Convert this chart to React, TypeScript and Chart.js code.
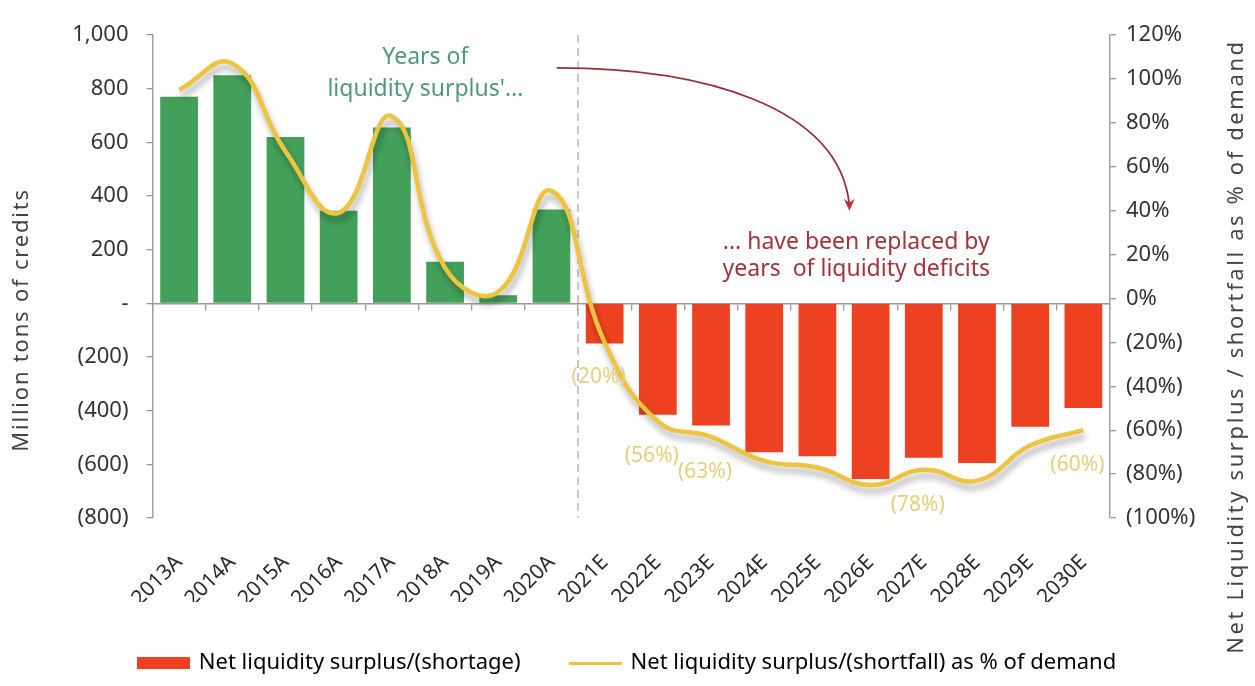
import { useEffect, useRef } from 'react';
import { Chart, registerables } from 'chart.js';

Chart.register(...registerables);

const categories = ['2013A', '2014A', '2015A', '2016A', '2017A', '2018A', '2019A', '2020A', '2021E', '2022E', '2023E', '2024E', '2025E', '2026E', '2027E', '2028E', '2029E', '2030E'];
const liquidityMt = [770, 850, 620, 345, 655, 155, 30, 350, -150, -415, -455, -555, -570, -655, -575, -595, -460, -390];
const liquidityPct = [95, 107, 67, 39, 83, 14, 3, 49, -20, -56, -63, -74, -77, -85, -78, -83, -67, -60];
const pctLabels: (string | null)[] = [null, null, null, null, null, null, null, null, '(20%)', '(56%)', '(63%)', null, null, null, '(78%)', null, null, '(60%)'];
const leftAxis = { min: -800, max: 1000, step: 200 };
const rightAxis = { min: -100, max: 120, step: 20 };
const seriesNames = ['Net liquidity surplus/(shortage)', 'Net liquidity surplus/(shortfall) as % of demand'];
const leftTitle = 'Million tons of credits';
const rightTitle = 'Net Liquidity surplus / shortfall as % of demand';
const surplusNote = ['Years of', "liquidity surplus'..."];
const deficitNote = ['... have been replaced by', 'years  of liquidity deficits'];

const GREEN = '#43A05A';
const RED = '#EE4122';
const GOLD = '#EDC33F';
const FONT = "'Noto Sans', sans-serif";

function fmtLeft(v: number) {
  if (v === 0) return '-';
  const s = Math.abs(v).toLocaleString('en-US');
  return v < 0 ? `(${s})` : s;
}
function fmtRight(v: number) {
  if (v === 0) return '0%';
  return v < 0 ? `(${Math.abs(v)}%)` : `${v}%`;
}

function makeSwatch(w: number, h: number, color: string) {
  const c = document.createElement('canvas');
  c.width = w;
  c.height = h;
  const g = c.getContext('2d')!;
  g.fillStyle = color;
  g.fillRect(0, 0, w, h);
  return c;
}

const overlay = {
  id: 'overlay',
  beforeDatasetsDraw(chart: any) {
    const { ctx, chartArea, scales } = chart;
    const x = scales.x;
    const xd = (x.getPixelForValue(7) + x.getPixelForValue(8)) / 2;
    ctx.save();
    ctx.setLineDash([8, 5]);
    ctx.strokeStyle = '#a9a9a9';
    ctx.lineWidth = 1.3;
    ctx.beginPath();
    ctx.moveTo(xd, chartArea.top);
    ctx.lineTo(xd, chartArea.bottom);
    ctx.stroke();
    ctx.restore();
  },
  beforeDatasetDraw(chart: any, args: any) {
    if (args.index === 1) {
      const ctx = chart.ctx;
      ctx.save();
      ctx.shadowColor = 'rgba(0,0,0,0.32)';
      ctx.shadowBlur = 6;
      ctx.shadowOffsetX = 2;
      ctx.shadowOffsetY = 6;
    }
  },
  afterDatasetDraw(chart: any, args: any) {
    if (args.index === 1) chart.ctx.restore();
  },
  afterDatasetsDraw(chart: any) {
    const { ctx, scales } = chart;
    const x = scales.x;
    const y1 = scales.y1;
    // data labels of the line
    ctx.save();
    ctx.font = `21px ${FONT}`;
    ctx.fillStyle = '#E4D07C';
    ctx.textAlign = 'center';
    ctx.textBaseline = 'middle';
    pctLabels.forEach((lab, i) => {
      if (!lab) return;
      const px = x.getPixelForValue(i) - 6;
      const py = y1.getPixelForValue(liquidityPct[i]) + 35;
      ctx.fillText(lab, px, py);
    });
    ctx.restore();

    // notes
    ctx.save();
    ctx.textAlign = 'center';
    ctx.textBaseline = 'middle';
    ctx.font = `23px ${FONT}`;
    ctx.fillStyle = '#4F9A78';
    const sx = x.getPixelForValue(4.63);
    ctx.fillText(surplusNote[0], sx, y1.getPixelForValue(110));
    ctx.fillText(surplusNote[1], sx, y1.getPixelForValue(95));
    ctx.fillStyle = '#A3343C';
    const dx = x.getPixelForValue(12.73);
    ctx.fillText(deficitNote[0], dx, y1.getPixelForValue(25.5));
    ctx.fillText(deficitNote[1], dx, y1.getPixelForValue(13));
    ctx.restore();

    // arrow
    const p0 = [x.getPixelForValue(7.1), y1.getPixelForValue(105)];
    const p1 = [x.getPixelForValue(9.8), y1.getPixelForValue(105)];
    const p2 = [x.getPixelForValue(12.4), y1.getPixelForValue(88)];
    const p3 = [x.getPixelForValue(12.6), y1.getPixelForValue(40)];
    ctx.save();
    ctx.strokeStyle = '#93303A';
    ctx.fillStyle = '#C0303A';
    ctx.lineWidth = 1.8;
    ctx.beginPath();
    ctx.moveTo(p0[0], p0[1]);
    ctx.bezierCurveTo(p1[0], p1[1], p2[0], p2[1], p3[0], p3[1] - 6);
    ctx.stroke();
    ctx.beginPath();
    ctx.moveTo(p3[0], p3[1]);
    ctx.lineTo(p3[0] - 5.5, p3[1] - 12);
    ctx.lineTo(p3[0], p3[1] - 8);
    ctx.lineTo(p3[0] + 5.5, p3[1] - 12);
    ctx.closePath();
    ctx.fill();
    ctx.restore();
  },
  afterDraw(chart: any) {
    const { ctx, chartArea } = chart;
    ctx.save();
    ctx.fillStyle = '#444';
    ctx.textAlign = 'center';
    ctx.textBaseline = 'middle';
    ctx.font = `22px ${FONT}`;
    (ctx as any).letterSpacing = '1.8px';
    ctx.translate(22, chartArea.top + (chartArea.bottom - chartArea.top) * 0.59);
    ctx.rotate(-Math.PI / 2);
    ctx.fillText(leftTitle, 0, 0);
    ctx.restore();

    ctx.save();
    ctx.fillStyle = '#444';
    ctx.textAlign = 'center';
    ctx.textBaseline = 'middle';
    ctx.font = `22px ${FONT}`;
    (ctx as any).letterSpacing = '2.6px';
    ctx.translate(chart.width - 18, chartArea.top + (chartArea.bottom - chartArea.top) * 0.645);
    ctx.rotate(-Math.PI / 2);
    ctx.fillText(rightTitle, 0, 0);
    ctx.restore();
  },
};

export default function App() {
  const ref = useRef<HTMLCanvasElement | null>(null);
  useEffect(() => {
    if (!ref.current) return;
    const barSwatch = makeSwatch(53, 12, RED);
    const lineSwatch = makeSwatch(53, 3, GOLD);
    const chart = new Chart(ref.current, {
      type: 'bar',
      data: {
        labels: categories,
        datasets: [
          {
            type: 'bar',
            label: seriesNames[0],
            data: liquidityMt,
            backgroundColor: liquidityMt.map((v) => (v >= 0 ? GREEN : RED)),
            categoryPercentage: 1,
            barPercentage: 0.71,
            yAxisID: 'y',
            order: 1,
          },
          {
            type: 'line',
            label: seriesNames[1],
            data: liquidityPct,
            borderColor: GOLD,
            borderWidth: 4.5,
            tension: 0.45,
            pointRadius: 0,
            fill: false,
            yAxisID: 'y1',
            order: 0,
          },
        ] as any,
      },
      options: {
        animation: false,
        responsive: true,
        maintainAspectRatio: false,
        layout: { padding: { top: 35, bottom: 2, left: 0, right: 0 } },
        plugins: {
          tooltip: { enabled: false },
          legend: {
            position: 'bottom',
            labels: {
              usePointStyle: true,
              pointStyleWidth: 49,
              font: { family: FONT, size: 22 },
              color: '#222',
              padding: 50,
              generateLabels: () => [
                { text: seriesNames[0], pointStyle: barSwatch, fillStyle: RED, strokeStyle: RED, lineWidth: 0, datasetIndex: 0, hidden: false },
                { text: seriesNames[1], pointStyle: lineSwatch, fillStyle: GOLD, strokeStyle: GOLD, lineWidth: 0, datasetIndex: 1, hidden: false },
              ] as any,
            },
          },
        },
        scales: {
          x: {
            type: 'category',
            position: 'bottom',
            offset: true,
            grid: { display: false },
            border: { display: false },
            ticks: { font: { family: FONT, size: 21 }, color: '#2b2b2b', minRotation: 45, maxRotation: 45, padding: 24 },
            afterFit: (s: any) => { s.height = 84; },
          },
          x2: {
            type: 'category',
            position: { y: 0 } as any,
            offset: true,
            ticks: { display: false },
            grid: { drawOnChartArea: false, offset: true, tickLength: 6, color: '#9a9a9a', lineWidth: 1.3 },
            border: { color: '#9a9a9a', width: 1.5 },
          },
          y: {
            position: 'left',
            min: leftAxis.min,
            max: leftAxis.max,
            ticks: { stepSize: leftAxis.step, callback: (v: any) => fmtLeft(Number(v)), font: { family: FONT, size: 22 }, color: '#333', padding: 18 },
            grid: { drawOnChartArea: false, tickLength: 6, color: '#9a9a9a', lineWidth: 1.3 },
            border: { color: '#a0a0a0', width: 1.5 },
            afterFit: (s: any) => { s.width = 152.5; },
          },
          y1: {
            position: 'right',
            min: rightAxis.min,
            max: rightAxis.max,
            ticks: { stepSize: rightAxis.step, callback: (v: any) => fmtRight(Number(v)), font: { family: FONT, size: 22 }, color: '#333', padding: 10 },
            grid: { drawOnChartArea: false, tickLength: 6, color: '#9a9a9a', lineWidth: 1.3 },
            border: { color: '#a0a0a0', width: 1.5 },
            afterFit: (s: any) => { s.width = 145; },
          },
        },
      } as any,
      plugins: [overlay],
    });
    return () => chart.destroy();
  }, []);
  return (
    <div style={{ position: 'fixed', left: 0, top: 0, width: 1255, height: 686, background: '#fff' }}>
      <canvas ref={ref} />
    </div>
  );
}
